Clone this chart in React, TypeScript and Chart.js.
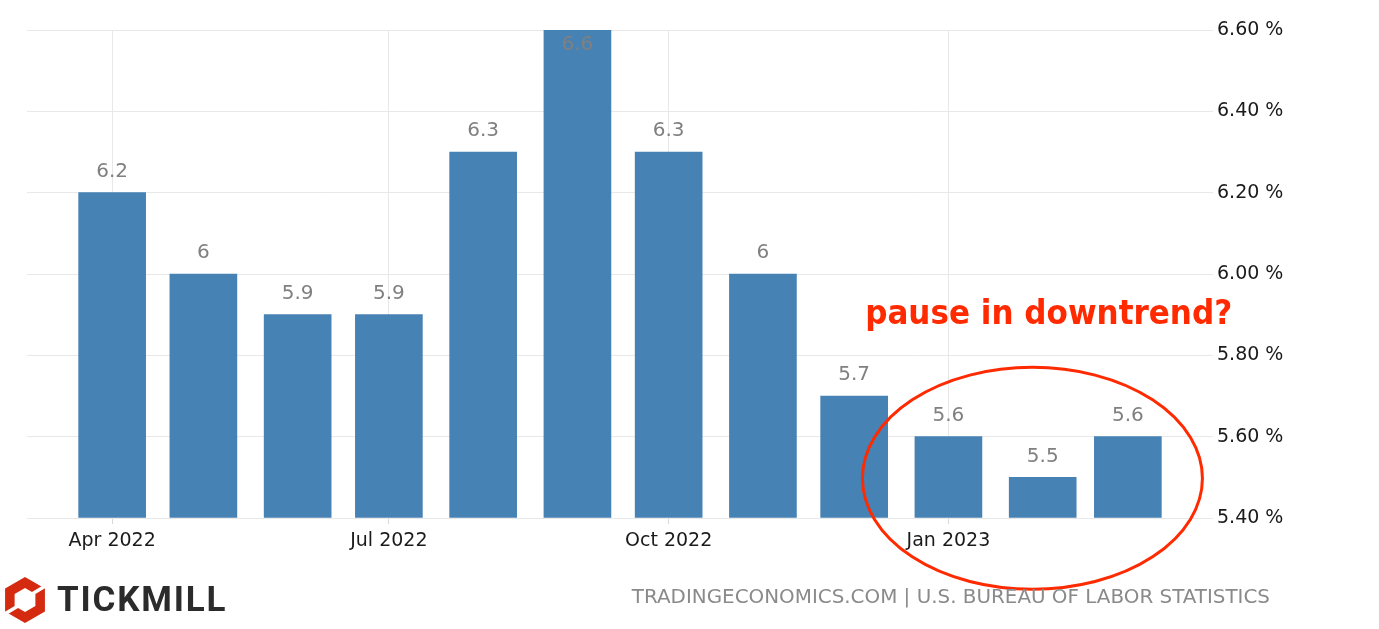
import React, { useEffect, useRef } from "react";
import { Chart, registerables } from "chart.js";

Chart.register(...registerables);

const months: string[] = [
  "2022-04", "2022-05", "2022-06", "2022-07", "2022-08", "2022-09",
  "2022-10", "2022-11", "2022-12", "2023-01", "2023-02", "2023-03",
];
const values: number[] = [6.2, 6.0, 5.9, 5.9, 6.3, 6.6, 6.3, 6.0, 5.7, 5.6, 5.5, 5.6];
const valueLabels: string[] = ["6.2", "6", "5.9", "5.9", "6.3", "6.6", "6.3", "6", "5.7", "5.6", "5.5", "5.6"];
const xTickMonths: string[] = ["2022-04", "2022-07", "2022-10", "2023-01"];
const xTickLabels: string[] = ["Apr 2022", "Jul 2022", "Oct 2022", "Jan 2023"];
const yTicks: number[] = [5.4, 5.6, 5.8, 6.0, 6.2, 6.4, 6.6];
const annotationText = "pause in downtrend?";
const annotationMonth = "2023-02"; // text anchor (approx.)
const annotationValue = 5.9;
const ellipseMonth = "2023-01";
const ellipseValue = 5.5;
const sourceText = "TRADINGECONOMICS.COM | U.S. BUREAU OF LABOR STATISTICS";
const brandText = "TICKMILL";

const FONT = "'DejaVu Sans', sans-serif";
const FONT_COND = "'DejaVu Sans Condensed', 'DejaVu Sans', sans-serif";
const BAR_COLOR = "#4682B4";
const RED = "#ff2a00";

const dayOf = (m: string) => {
  const [y, mo] = m.split("-").map(Number);
  return (Date.UTC(y, mo - 1, 1) - Date.UTC(2022, 3, 1)) / 86400000;
};

export default function App() {
  const ref = useRef<HTMLCanvasElement | null>(null);

  useEffect(() => {
    if (!ref.current) return;
    const points = months.map((m, i) => ({ x: dayOf(m), y: values[i] }));
    const tickDays = xTickMonths.map(dayOf);

    const decor = {
      id: "decor",
      afterDatasetsDraw(chart: any) {
        const ctx = chart.ctx;
        const meta = chart.getDatasetMeta(0);
        const area = chart.chartArea;
        ctx.save();
        ctx.font = `20px ${FONT}`;
        ctx.fillStyle = "#808080";
        ctx.textAlign = "center";
        ctx.textBaseline = "middle";
        meta.data.forEach((bar: any, i: number) => {
          let y = bar.y - 21;
          if (y - 10 < area.top) y = bar.y + 15;
          ctx.fillText(valueLabels[i], bar.x, y);
        });
        ctx.restore();
      },
      afterDraw(chart: any) {
        const ctx = chart.ctx;
        const xs = chart.scales.x;
        const ys = chart.scales.y;
        ctx.save();
        // annotation text
        ctx.font = `bold 34.5px ${FONT_COND}`;
        ctx.fillStyle = RED;
        ctx.textAlign = "center";
        ctx.textBaseline = "middle";
        ctx.fillText(annotationText, xs.getPixelForValue(dayOf(annotationMonth)) + 6, ys.getPixelForValue(annotationValue));
        // ellipse
        const cx = xs.getPixelForValue(dayOf(ellipseMonth)) + 84;
        const cy = ys.getPixelForValue(ellipseValue) + 1;
        ctx.beginPath();
        ctx.ellipse(cx, cy, 170, 111, 0, 0, Math.PI * 2);
        ctx.strokeStyle = RED;
        ctx.lineWidth = 3;
        ctx.stroke();
        // source
        ctx.font = `19.9px ${FONT}`;
        ctx.fillStyle = "#8a8a8a";
        ctx.textAlign = "right";
        ctx.fillText(sourceText, 1270, 598);
        // logo icon
        const lx = 25, ly = 600, R = 23, r = 12;
        const hex = (rad: number) => {
          for (let k = 0; k < 6; k++) {
            const a = (-90 + 60 * k) * Math.PI / 180;
            const px = lx + rad * Math.cos(a), py = ly + rad * Math.sin(a);
            if (k === 0) ctx.moveTo(px, py); else ctx.lineTo(px, py);
          }
          ctx.closePath();
        };
        ctx.beginPath();
        hex(R);
        hex(r);
        ctx.fillStyle = "#d42a10";
        ctx.fill("evenodd");
        ctx.strokeStyle = "#ffffff";
        ctx.lineWidth = 3.5;
        ctx.beginPath();
        ctx.moveTo(lx + 7, ly - 6);
        ctx.lineTo(lx + 22, ly - 15);
        ctx.moveTo(lx - 7, ly + 6);
        ctx.lineTo(lx - 22, ly + 15);
        ctx.stroke();
        // brand text
        ctx.font = `bold 35px Roboto, 'DejaVu Sans', sans-serif`;
        (ctx as any).letterSpacing = "1.8px";
        ctx.fillStyle = "#2b2b2b";
        ctx.textAlign = "left";
        ctx.textBaseline = "middle";
        ctx.fillText(brandText, 57, 602);
        ctx.restore();
      },
    };

    const chart = new Chart(ref.current, {
      type: "bar",
      data: {
        datasets: [
          {
            data: points as any,
            backgroundColor: BAR_COLOR,
            barThickness: 67,
            base: 5.4,
          } as any,
        ],
      },
      options: {
        animation: false,
        responsive: false,
        maintainAspectRatio: false,
        layout: { padding: { left: 27, top: 30, right: 0, bottom: 0 } },
        plugins: { legend: { display: false }, tooltip: { enabled: false } },
        scales: {
          x: {
            type: "linear",
            min: -28,
            max: 362,
            offset: false,
            afterBuildTicks(scale: any) {
              scale.ticks = tickDays.map((v) => ({ value: v }));
            },
            afterFit(scale: any) {
              scale.height = 111;
            },
            grid: { color: "#e8e8e8", tickLength: 6, tickColor: "#d8d8d8", offset: false },
            border: { display: false },
            ticks: {
              autoSkip: false,
              maxRotation: 0,
              padding: 6,
              color: "#1a1a1a",
              font: { family: FONT, size: 19 },
              callback: (v: any) => {
                const idx = tickDays.indexOf(Number(v));
                return idx >= 0 ? xTickLabels[idx] : "";
              },
            },
          },
          y: {
            position: "right",
            min: 5.4,
            max: 6.6,
            afterBuildTicks(scale: any) {
              scale.ticks = yTicks.map((v) => ({ value: v }));
            },
            afterFit(scale: any) {
              scale.width = 166;
            },
            grid: { color: "#e8e8e8", drawTicks: false },
            border: { display: false },
            ticks: {
              padding: 4,
              color: "#1a1a1a",
              font: { family: FONT, size: 19 },
              callback: (v: any) => Number(v).toFixed(2) + " %",
            },
          },
        },
      },
      plugins: [decor],
    });
    return () => chart.destroy();
  }, []);

  return (
    <div style={{ position: "fixed", left: 0, top: 0, width: 1379, height: 629, background: "#fff" }}>
      <canvas ref={ref} width={1379} height={629} style={{ width: 1379, height: 629, display: "block" }} />
    </div>
  );
}
